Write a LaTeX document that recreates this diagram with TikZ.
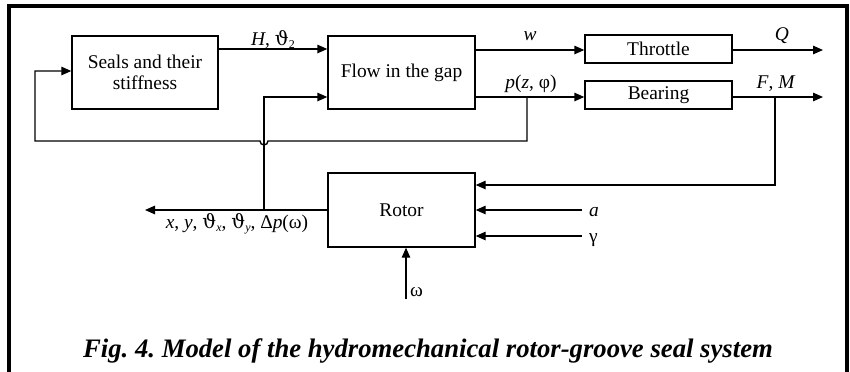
\documentclass[tikz,border=0pt]{standalone}
\usepackage{fontspec}
\setmainfont{Liberation Serif}
\newfontfamily\gkfont{DejaVu Serif}
\usetikzlibrary{arrows.meta}
\frenchspacing
\begin{document}
\begin{tikzpicture}[x=1bp,y=-1bp,
  box/.style={draw,line width=1.4bp,inner sep=0pt,align=center},
  conn/.style={line width=1.4bp},
  arr/.style={line width=1.4bp,-{Triangle[length=10bp,width=8.5bp]}},
  lbl/.style={inner sep=0pt,font=\fontsize{19.5}{22}\selectfont},
  every node/.style={font=\fontsize{19.5}{22}\selectfont}]
\useasboundingbox (0,0) rectangle (850,371);
% frame
\draw[line width=4bp] (9,373) -- (9,6) -- (847,6) -- (847,373);
% boxes
\node[box,minimum width=146bp,minimum height=73bp,text depth=0pt] (seals) at (145,72.5) {Seals and their\\[-1bp]stiffness};
\node[box,minimum width=147bp,minimum height=73bp] (flow) at (401.5,72.5) {Flow in the gap};
\node[box,minimum width=147bp,minimum height=28bp] (thr) at (658.5,49) {Throttle};
\node[box,minimum width=147bp,minimum height=28bp] (bear) at (658.5,95) {Bearing};
\node[box,minimum width=147bp,minimum height=74bp] (rotor) at (401.5,210) {Rotor};
% coordinates
\coordinate (pj) at (527,97);
\coordinate (fmj) at (775,97);
\coordinate (xj) at (264,210);
\coordinate (qout) at (823,50);
\coordinate (fout) at (823,97);
\coordinate (xout) at (145,210);
\coordinate (ain) at (582,210);
\coordinate (gin) at (582,236);
\coordinate (win) at (406,299);
% connectors
\draw[arr] (seals.east |- 0,49) -- (flow.west |- 0,49);
\node[lbl,anchor=base] at (273,45) {\textit{H}, {\gkfont ϑ}\raisebox{-3bp}{\fontsize{12}{14}\selectfont 2}};
\draw[arr] (flow.east |- 0,50) -- (thr.west |- 0,50);
\node[lbl,anchor=base] at (530,40) {\textit{w}};
\draw[arr] (flow.east |- 0,97) -- (bear.west |- 0,97);
\node[lbl,anchor=base] at (531,88) {\textit{p}(\textit{z}, φ)};
\draw[arr] (thr.east |- qout) -- (qout);
\node[lbl,anchor=base] at (782,40) {\textit{Q}};
\draw[arr] (bear.east |- fout) -- (fout);
\node[lbl,anchor=base] at (776,88) {\textit{F}, \textit{M}};
\draw[arr] (fmj) -- (775,185) -- (rotor.east |- 0,185);
\draw[arr] (ain) -- (rotor.east |- ain);
\node[lbl,anchor=base west] at (589,216) {\textit{a}};
\draw[arr] (gin) -- (rotor.east |- gin);
\node[lbl,anchor=base west] at (589,242) {γ};
\draw[arr] (rotor.west |- xout) -- (xout);
\node[lbl,anchor=base] at (237,228) {\textit{x}, \textit{y}, {\gkfont ϑ}\raisebox{-3bp}{\fontsize{12}{14}\selectfont\textit{x}}, {\gkfont ϑ}\raisebox{-3bp}{\fontsize{12}{14}\selectfont\textit{y}}, Δ\textit{p}(ω)};
\draw[arr] (xj) -- (264,97) -- (flow.west |- 0,97);
\draw[arr] (win) -- (rotor.south -| win);
\node[lbl,anchor=base west] at (410,296) {ω};
\draw[arr] (pj) -- (527,141) -- (268,141) arc[start angle=0,end angle=180,radius=4] -- (35,141) -- (35,71) -- (seals.west |- 0,71);
% caption
\node[anchor=base,inner sep=0pt,font=\fontsize{26.8}{30}\selectfont\bfseries\itshape] (cap) at (428,357) {Fig. 4. Model of the hydromechanical rotor-groove seal system};
\end{tikzpicture}
\end{document}
